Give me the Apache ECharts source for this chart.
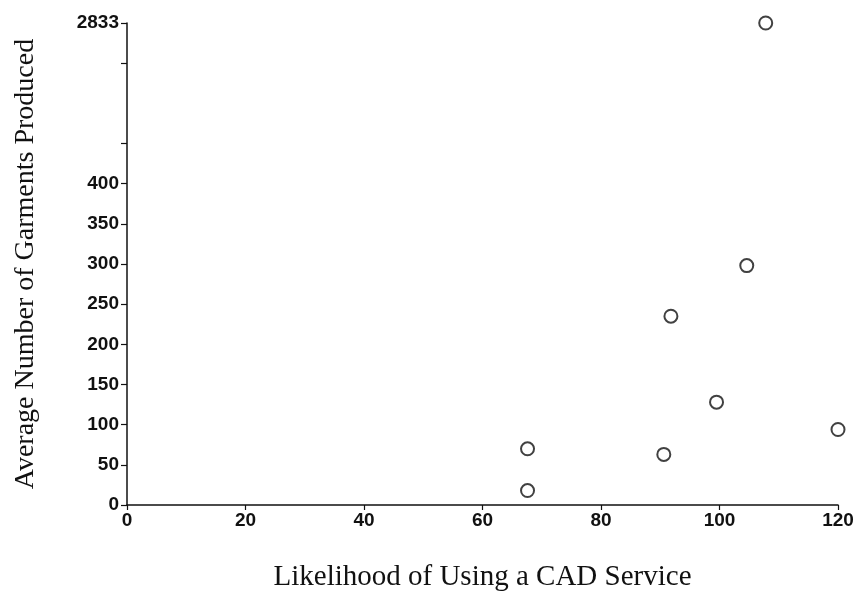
<!DOCTYPE html>
<html>
<head>
<meta charset="utf-8">
<script src="https://cdn.jsdelivr.net/npm/echarts@6/dist/echarts.min.js"></script>
<style>html,body{margin:0;padding:0;background:#fff}#c{width:859px;height:592px}</style>
</head>
<body>
<div id="c"></div>
<script>
// Likelihood of using a CAD service (x) vs average garments produced (y)
const likelihood = [67.6, 67.6, 90.6, 91.8, 99.5, 104.6, 107.8, 120];
const garments   = [18,   70,   63,   235,  128,  298,  2833,  94];
// broken y-axis: 0–400 linear, the outlier 2833 drawn at axis position 600
const breakValue = 2833;
const breakPos = 600;
const yTickLabels = [0, 50, 100, 150, 200, 250, 300, 350, 400, 600];
const yTickMarks  = [0, 50, 100, 150, 200, 250, 300, 350, 400, 450, 550, 600];
const xTicks = [0, 20, 40, 60, 80, 100, 120];

const pts = likelihood.map((x, i) => [x, garments[i] === breakValue ? breakPos : garments[i]]);

const chart = echarts.init(document.getElementById('c'), null, {renderer: 'canvas'});
const tickFont = {fontFamily: 'Liberation Sans, Arial, sans-serif', fontSize: 19, color: '#111', fontWeight: 'bold'};
chart.setOption({
  animation: false,
  backgroundColor: '#fff',
  grid: {left: 127, right: 21, top: 23, bottom: 87, containLabel: false, outerBoundsMode: 'none'},
  xAxis: {
    type: 'value', min: 0, max: 120, interval: 20,
    name: 'Likelihood of Using a CAD Service',
    nameLocation: 'middle', nameGap: 58,
    nameTextStyle: {fontFamily: 'Liberation Serif, Times New Roman, serif', fontSize: 29, color: '#111'},
    axisLine: {show: true, lineStyle: {color: '#111', width: 1.5}},
    axisTick: {show: true, inside: false, length: 5, customValues: xTicks, lineStyle: {color: '#111', width: 1.2}},
    axisLabel: Object.assign({margin: 6, customValues: xTicks}, tickFont),
    splitLine: {show: false}
  },
  yAxis: {
    type: 'value', min: 0, max: breakPos, interval: 50,
    name: 'Average Number of Garments Produced',
    nameLocation: 'middle', nameGap: 87,
    nameTextStyle: {fontFamily: 'Liberation Serif, Times New Roman, serif', fontSize: 28, color: '#111'},
    axisLine: {show: true, lineStyle: {color: '#111', width: 1.5}},
    axisTick: {show: true, inside: false, length: 6, customValues: yTickMarks, lineStyle: {color: '#111', width: 1.2}},
    axisLabel: Object.assign({margin: 8, customValues: yTickLabels,
      formatter: v => v === breakPos ? String(breakValue) : String(v)}, tickFont),
    splitLine: {show: false}
  },
  series: [{
    type: 'scatter',
    data: pts,
    symbol: 'circle',
    symbolSize: 13,
    clip: false,
    itemStyle: {color: '#fff', borderColor: '#111', borderWidth: 2}
  }]
});
</script>
</body>
</html>
